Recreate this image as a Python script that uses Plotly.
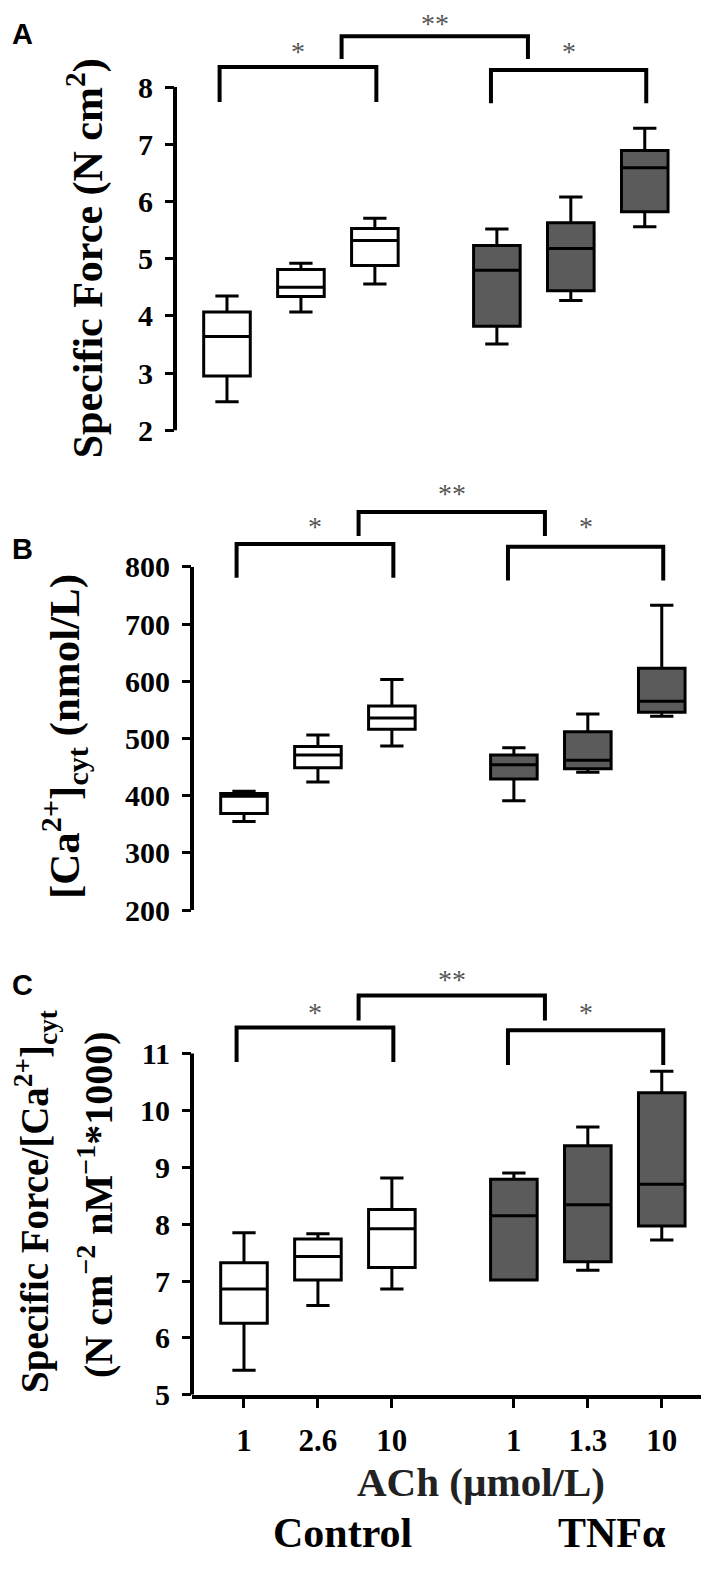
import plotly.graph_objects as go

# box positions (Control: 1, 2.6, 10 ; TNFa: 1, 1.3, 10 umol/L ACh)
positions = [1, 2, 3, 4.65, 5.65, 6.65]
tick_labels = ["1", "2.6", "10", "1", "1.3", "10"]
is_tnf = [False, False, False, True, True, True]

# A: specific force (N cm2)
force_low = [2.5, 4.07, 4.56, 3.51, 4.27, 5.56]
force_q1 = [2.95, 4.34, 4.88, 3.82, 4.44, 5.82]
force_med = [3.64, 4.50, 5.32, 4.80, 5.18, 6.59]
force_q3 = [4.07, 4.81, 5.53, 5.23, 5.63, 6.89]
force_high = [4.35, 4.92, 5.71, 5.52, 6.08, 7.28]

# B: [Ca2+]cyt (nmol/L)
ca_low = [355, 424, 487, 391, 441, 539]
ca_q1 = [369, 449, 516, 429, 447, 546]
ca_med = [399, 471, 536, 454, 462, 565]
ca_q3 = [404, 486, 557, 471, 512, 623]
ca_high = [408, 506, 603, 484, 543, 733]

# C: specific force / [Ca2+]cyt
ratio_low = [5.43, 6.57, 6.86, 7.02, 7.19, 7.72]
ratio_q1 = [6.26, 7.02, 7.24, 7.02, 7.34, 7.97]
ratio_med = [6.86, 7.43, 7.92, 8.15, 8.34, 8.70]
ratio_q3 = [7.32, 7.74, 8.26, 8.79, 9.38, 10.31]
ratio_high = [7.85, 7.83, 8.81, 8.90, 9.71, 10.69]

# significance brackets: (x0, x1) and (top, leg bottom) per panel
brackets_x = [(0.9, 3.02), (4.57, 6.67), (2.55, 5.07)]
brackets_a = [(8.35, 7.74), (8.30, 7.72), (8.89, 8.49)]
brackets_b = [(840, 781), (835, 776), (896, 854)]
brackets_c = [(11.46, 10.85), (11.41, 10.80), (12.02, 11.58)]
star_labels = ["*", "*", "**"]
stars_y_a = [8.63, 8.63, 9.12]
stars_y_b = [871, 871, 928]
stars_y_c = [11.72, 11.72, 12.31]

W, H = 709, 1570
SERIF = "Liberation Serif"
DARK = "#5b5b5b"

panels = [
    dict(ax="", low=force_low, q1=force_q1, med=force_med, q3=force_q3, high=force_high,
         ticks=[2, 3, 4, 5, 6, 7, 8], ymin=2, ymax=8, yrange=[1.948, 9.383],
         xdom=[167, 690], ydom=[0, 430], br=brackets_a, sy=stars_y_a),
    dict(ax="2", low=ca_low, q1=ca_q1, med=ca_med, q3=ca_q3, high=ca_high,
         ticks=[200, 300, 400, 500, 600, 700, 800], ymin=200, ymax=800, yrange=[194.8, 947.0],
         xdom=[184, 707], ydom=[480, 915], br=brackets_b, sy=stars_y_b),
    dict(ax="3", low=ratio_low, q1=ratio_q1, med=ratio_med, q3=ratio_q3, high=ratio_high,
         ticks=[5, 6, 7, 8, 9, 10, 11], ymin=5, ymax=11, yrange=[5, 12.513],
         xdom=[184, 707], ydom=[970, 1402], br=brackets_c, sy=stars_y_c),
]

fig = go.Figure()
shapes = []
annotations = []
layout_axes = {}


def note(x, y, text, size, family=SERIF, color="black", angle=0, xref="paper", yref="paper"):
    if xref == "paper":
        x = x / W
    if yref == "paper":
        y = 1 - y / H
    annotations.append(dict(x=x, y=y, xref=xref, yref=yref, text=text, textangle=angle,
                            xanchor="center", yanchor="middle", showarrow=False,
                            font=dict(family=family, size=size, color=color)))


for i, p in enumerate(panels):
    xa, ya = "x" + p["ax"], "y" + p["ax"]
    for j in range(len(positions)):
        fig.add_trace(go.Box(
            x=[positions[j]], q1=[p["q1"][j]], median=[p["med"][j]], q3=[p["q3"][j]],
            lowerfence=[p["low"][j]], upperfence=[p["high"][j]],
            width=0.63, whiskerwidth=0.5, boxpoints=False,
            fillcolor=DARK if is_tnf[j] else "white",
            line=dict(color="black", width=3),
            xaxis=xa, yaxis=ya, showlegend=False, hoverinfo="skip",
        ))
    last = i == 2
    layout_axes["xaxis" + p["ax"]] = dict(
        domain=[p["xdom"][0] / W, p["xdom"][1] / W], range=[0.297, 7.37], anchor=ya,
        showgrid=False, zeroline=False,
        showline=last, linecolor="black", linewidth=4,
        ticks="outside" if last else "", ticklen=9, tickwidth=3, tickcolor="black",
        tickvals=positions, ticktext=tick_labels, showticklabels=last,
        tickfont=dict(family=SERIF, size=31, color="black", weight="bold"),
        ticklabelstandoff=6,
    )
    layout_axes["yaxis" + p["ax"]] = dict(
        domain=[1 - p["ydom"][1] / H, 1 - p["ydom"][0] / H], range=p["yrange"], anchor=xa,
        showgrid=False, zeroline=False, showline=False,
        ticks="outside", ticklen=9, tickwidth=3, tickcolor="black",
        tickvals=p["ticks"], tickfont=dict(family=SERIF, size=30, color="black", weight="bold"),
        ticklabelstandoff=6,
    )
    # y axis line only over the tick span
    shapes.append(dict(type="line", xref=xa + " domain", yref=ya, x0=0, x1=0,
                       y0=p["ymin"], y1=p["ymax"], line=dict(color="black", width=4)))
    for (x0, x1), (top, leg), lab, sy in zip(brackets_x, p["br"], star_labels, p["sy"]):
        shapes.append(dict(type="path", xref=xa, yref=ya,
                           path=f"M {x0},{leg} L {x0},{top} L {x1},{top} L {x1},{leg}",
                           line=dict(color="black", width=4)))
        note((x0 + x1) / 2, sy, lab, 28, color="#555555", xref=xa, yref=ya)

# panel letters
for lab, yy in [("A", 26), ("B", 547), ("C", 988)]:
    note(15, yy, f"<b>{lab}</b>", 29, family="Liberation Sans")

# y titles
note(78, 253, "<b>Specific Force (N cm<sup>2</sup>)</b>", 42, angle=-90)
note(56, 737, "<b>[Ca<sup>2+</sup>]<sub>cyt</sub> (nmol/L)</b>", 43, angle=-90)
note(28, 1207, "<b>Specific Force/[Ca<sup>2+</sup>]<sub>cyt</sub></b>", 39, angle=-90)
note(88, 1210, "<b>(N cm<sup>\u22122</sup> nM<sup>\u22121</sup>*1000)</b>", 40, angle=-90)

# x title and group labels
note(473, 1490, "<b>ACh (\u00b5mol/L)</b>", 41, color="#222222")
note(334, 1542, "<b>Control</b>", 42)
note(604, 1542, "<b>TNF\u03b1</b>", 42)

fig.update_layout(
    width=W, height=H, margin=dict(l=0, r=0, t=0, b=0),
    paper_bgcolor="white", plot_bgcolor="rgba(0,0,0,0)",
    showlegend=False, shapes=shapes, annotations=annotations, **layout_axes,
)
fig.write_html("out.html")
